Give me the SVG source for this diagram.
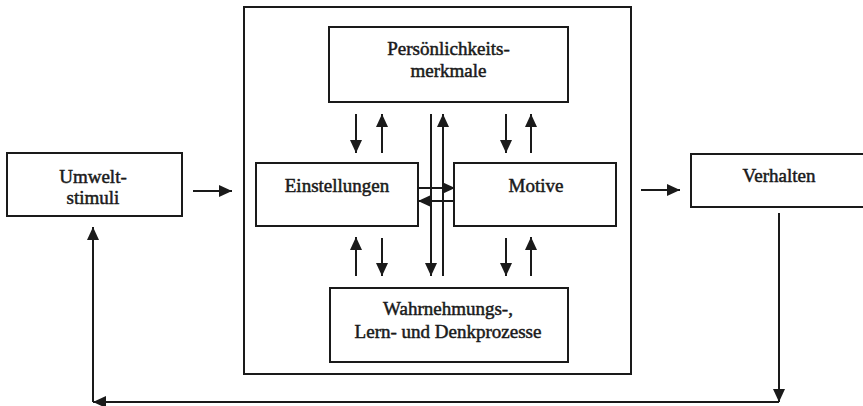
<svg xmlns="http://www.w3.org/2000/svg" width="863" height="406" viewBox="0 0 863 406">
<defs>
<marker id="ah" viewBox="0 0 13 12" refX="13" refY="6" markerWidth="13" markerHeight="12" markerUnits="userSpaceOnUse" orient="auto">
<path d="M0,0 L13,6 L0,12 Z" fill="#1a1a1a"/>
</marker>
<style>
.box{fill:#fff;stroke:#1a1a1a;stroke-width:2}
.lbl{font-family:"Liberation Serif","Times New Roman",serif;font-size:19px;fill:#1a1a1a;stroke:#1a1a1a;stroke-width:0.5;text-anchor:middle}
.c{stroke:#1a1a1a;stroke-width:2;fill:none}
.a{stroke:#1a1a1a;stroke-width:2;fill:none;marker-end:url(#ah)}
</style>
</defs>
<rect width="863" height="406" fill="#fff"/>
<g id="container">
<rect class="box" x="244" y="7" width="387" height="367"/>
</g>
<g id="umweltstimuli">
<rect class="box" x="7" y="153" width="175" height="63"/>
<text class="lbl" x="93" y="183">Umwelt-</text>
<text class="lbl" x="93" y="204">stimuli</text>
</g>
<g id="persoenlichkeitsmerkmale">
<rect class="box" x="329" y="27" width="239" height="75"/>
<text class="lbl" x="448.5" y="55">Persönlichkeits-</text>
<text class="lbl" x="448.5" y="77">merkmale</text>
</g>
<g id="einstellungen">
<rect class="box" x="256" y="163" width="162" height="63"/>
<text class="lbl" x="337" y="192">Einstellungen</text>
</g>
<g id="motive">
<rect class="box" x="454" y="163" width="162" height="63"/>
<text class="lbl" x="536" y="192">Motive</text>
</g>
<g id="verhalten">
<rect class="box" x="691" y="154" width="180" height="53"/>
<text class="lbl" x="779" y="182">Verhalten</text>
</g>
<g id="wahrnehmung">
<rect class="box" x="330" y="288" width="238" height="74"/>
<text class="lbl" x="448" y="315">Wahrnehmungs-,</text>
<text class="lbl" x="448" y="338">Lern- und Denkprozesse</text>
</g>
<g id="connectors">
<line class="a" x1="193" y1="191" x2="232" y2="191"/>
<line class="a" x1="641" y1="190" x2="680" y2="190"/>
<line class="a" x1="356" y1="114" x2="356" y2="153"/>
<line class="a" x1="382" y1="153" x2="382" y2="114"/>
<line class="a" x1="506" y1="114" x2="506" y2="153"/>
<line class="a" x1="531" y1="153" x2="531" y2="114"/>
<line class="a" x1="356" y1="276" x2="356" y2="237"/>
<line class="a" x1="382" y1="238" x2="382" y2="276"/>
<line class="a" x1="506" y1="238" x2="506" y2="276"/>
<line class="a" x1="531" y1="276" x2="531" y2="237"/>
<line class="a" x1="431" y1="114" x2="431" y2="276"/>
<line class="a" x1="443" y1="276" x2="443" y2="114"/>
<line class="a" x1="418" y1="188" x2="455" y2="188"/>
<line class="a" x1="455" y1="201" x2="418" y2="201"/>
<line class="a" x1="779" y1="213" x2="779" y2="402"/>
<line class="a" x1="779" y1="402" x2="93" y2="402"/>
<line class="a" x1="93" y1="402" x2="93" y2="227"/>
</g>
</svg>
